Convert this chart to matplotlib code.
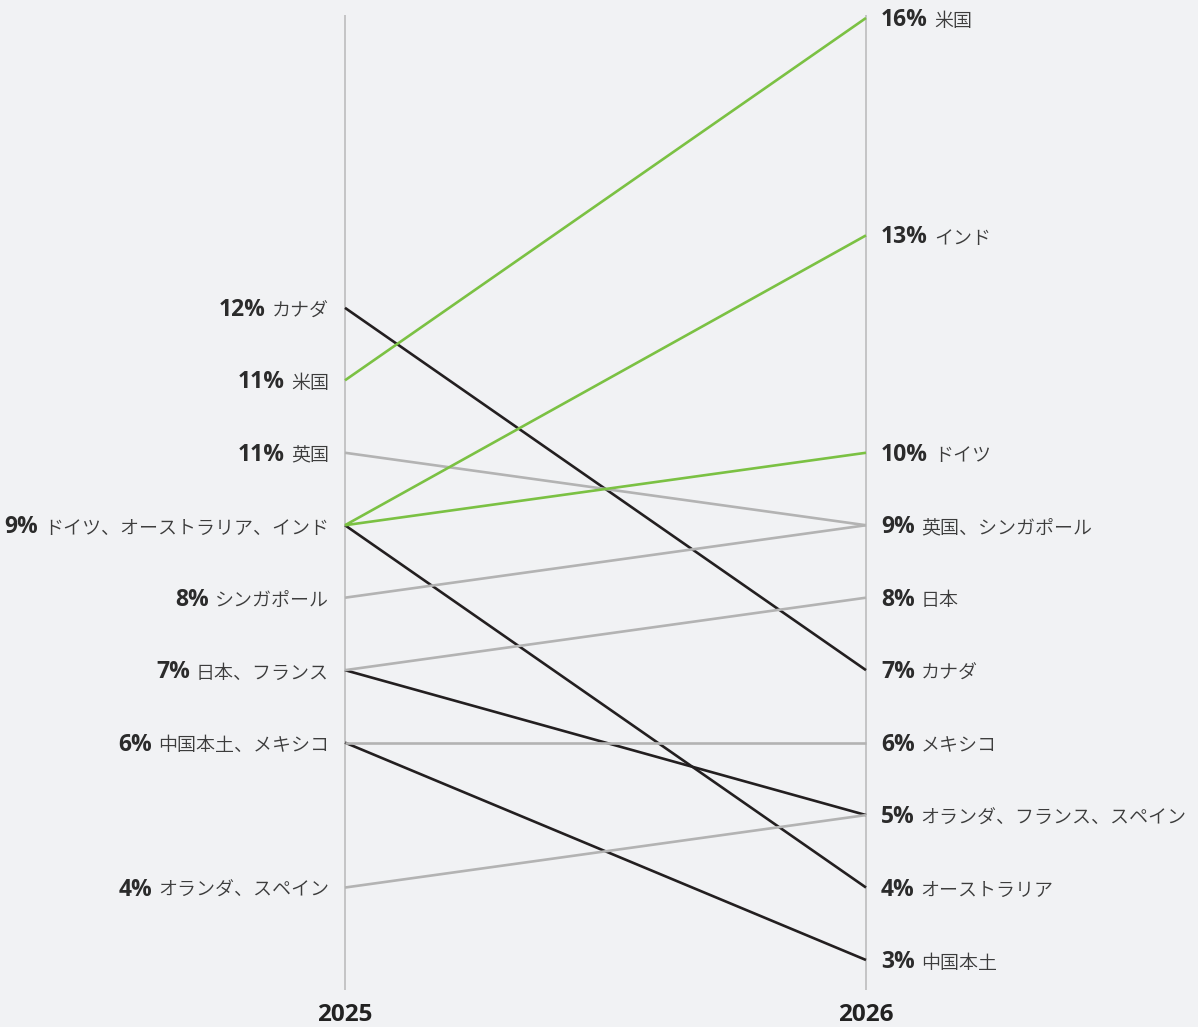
import matplotlib
matplotlib.use("Agg")
import matplotlib.pyplot as plt

# slope chart data (2025 -> 2026); plotting value and printed label
countries = ["米国", "インド", "ドイツ", "英国", "シンガポール", "日本",
             "カナダ", "メキシコ", "フランス", "オランダ・スペイン", "オーストラリア", "中国本土"]
val_2025 = [11, 9, 9, 10, 8, 7, 12, 6, 7, 4, 9, 6]
val_2026 = [16, 13, 10, 9, 9, 8, 7, 6, 5, 5, 4, 3]
groups = ["up", "up", "up", "flat", "flat", "flat",
          "down", "flat", "down", "flat", "down", "down"]

# axis labels (as printed)
left_pos = [12, 11, 10, 9, 8, 7, 6, 4]
left_pct = ["12%", "11%", "11%", "9%", "8%", "7%", "6%", "4%"]
left_names = ["カナダ", "米国", "英国", "ドイツ、オーストラリア、インド", "シンガポール",
              "日本、フランス", "中国本土、メキシコ", "オランダ、スペイン"]

right_pos = [16, 13, 10, 9, 8, 7, 6, 5, 4, 3]
right_pct = ["16%", "13%", "10%", "9%", "8%", "7%", "6%", "5%", "4%", "3%"]
right_names = ["米国", "インド", "ドイツ", "英国、シンガポール", "日本", "カナダ",
               "メキシコ", "オランダ、フランス、スペイン", "オーストラリア", "中国本土"]

years = ["2025", "2026"]

colors = {"up": "#7bc143", "flat": "#b3b3b3", "down": "#231f20"}
zorders = {"down": 3, "flat": 4, "up": 5}
bg = "#f1f2f4"

W, H = 1198, 1027
fig = plt.figure(figsize=(W / 100, H / 100), dpi=100, facecolor=bg)
ax = fig.add_axes([0, 0, 1, 1])
ax.set_facecolor(bg)

# pixel mapping: x=0 -> 345px, x=1 -> 866px ; 16 -> 18px, 3 -> 960px
xl, xr = 345, 866
ppu = (960 - 18) / 13.0
ax.set_xlim(-xl / (xr - xl), (W - xl) / (xr - xl))
ax.set_ylim(16 - (H - 18) / ppu, 16 + 18 / ppu)
ax.axis("off")

y_top = 16 + 3 / ppu
y_bot = 16 - (990 - 18) / ppu
ax.vlines([0, 1], y_bot, y_top, color="#bdbdbd", lw=1.2, zorder=1)

for c, a, b, g in zip(countries, val_2025, val_2026, groups):
    ax.plot([0, 1], [a, b], color=colors[g], lw=1.9, zorder=zorders[g],
            solid_capstyle="butt")

pct_kw = dict(fontsize=16.5, fontweight="bold", color="#2b2b2b",
              family=["Open Sans", "DejaVu Sans"], va="center")
name_kw = dict(fontsize=13.7, fontweight=350, color="#3c3c3c",
               family=["Noto Sans CJK JP", "DejaVu Sans"], va="center")

fig.canvas.draw()
r = fig.canvas.get_renderer()

# left side labels
for y, p, n in zip(left_pos, left_pct, left_names):
    t = ax.annotate(n, (0, y), xytext=(-16, -3), textcoords="offset pixels",
                    ha="right", **name_kw)
    w = t.get_window_extent(r).width
    ax.annotate(p, (0, y), xytext=(-16 - w - 6, -2), textcoords="offset pixels",
                ha="right", **pct_kw)

# right side labels
for y, p, n in zip(right_pos, right_pct, right_names):
    t = ax.annotate(p, (1, y), xytext=(15, -2), textcoords="offset pixels",
                    ha="left", **pct_kw)
    w = t.get_window_extent(r).width
    ax.annotate(n, (1, y), xytext=(15 + w + 6, -3), textcoords="offset pixels",
                ha="left", **name_kw)

# years
y_year = 16 - (1015 - 18) / ppu
for i, yr in enumerate(years):
    ax.text(i, y_year, yr, ha="center", va="center", fontsize=17.5,
            fontweight="bold", color="#222222", family=["Open Sans", "DejaVu Sans"])

fig.savefig("out.png", dpi=100, facecolor=bg)
